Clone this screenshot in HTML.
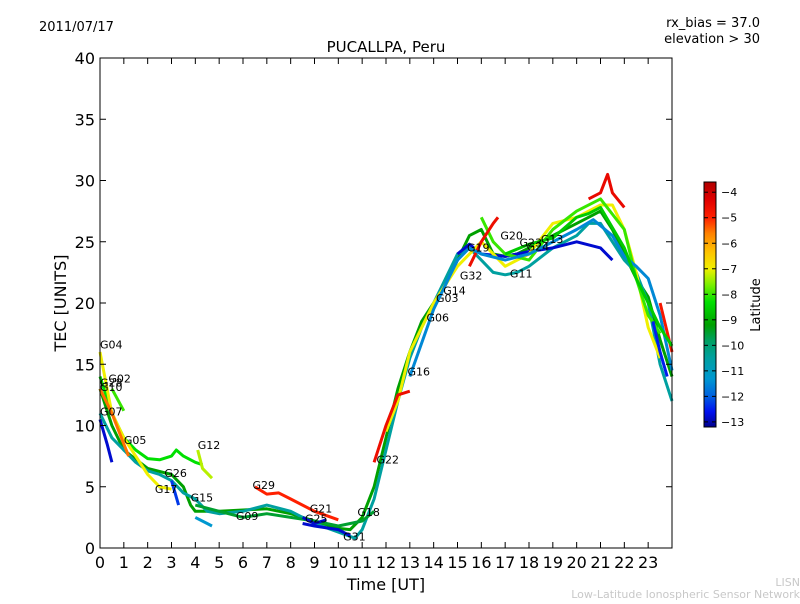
<!DOCTYPE html>
<html><head><meta charset="utf-8"><style>
body{margin:0;background:#fff;font-family:"DejaVu Sans","Liberation Sans",sans-serif}
</style></head><body>
<svg id="chart" width="800" height="600" xmlns="http://www.w3.org/2000/svg" font-family="DejaVu Sans, Liberation Sans, sans-serif">
<rect width="800" height="600" fill="#fff"/>
<text x="39" y="31" font-size="13">2011/07/17</text>
<text x="760" y="27" font-size="13" text-anchor="end">rx_bias = 37.0</text>
<text x="760" y="43" font-size="13" text-anchor="end">elevation &gt; 30</text>
<text x="386" y="52" font-size="15" text-anchor="middle">PUCALLPA, Peru</text>
<g id="series"></g>
<g id="labels"></g>
<rect x="100" y="58" width="572" height="490" fill="none" stroke="#000" stroke-width="1"/>
<g id="axes"></g>
<text x="386" y="590" font-size="16" text-anchor="middle">Time [UT]</text>
<text transform="translate(66,303) rotate(-90)" font-size="16" text-anchor="middle">TEC [UNITS]</text>
<defs><linearGradient id="jet" x1="0" y1="1" x2="0" y2="0"></linearGradient></defs>
<rect x="704" y="182" width="12" height="245" fill="url(#jet)" stroke="#000"/>
<g id="cbticks"></g>
<text transform="translate(760,305) rotate(-90)" font-size="13" text-anchor="middle">Latitude</text>
<text x="800" y="586" font-size="11" fill="#c8c8c8" text-anchor="end">LISN</text>
<text x="800" y="598" font-size="11" fill="#c8c8c8" text-anchor="end">Low-Latitude Ionospheric Sensor Network</text>
</svg>
<script>
const xTicks=[0,1,2,3,4,5,6,7,8,9,10,11,12,13,14,15,16,17,18,19,20,21,22,23];
const yTicks=[0,5,10,15,20,25,30,35,40];
const cbTicks=[-4,-5,-6,-7,-8,-9,-10,-11,-12,-13];
const trackLat=[-8.3,-9.2,-10.5,-12.8,-12.8,-12.8,-7,-7,-5.5,-4.5,-4.8,-4.6,-8,-5,-12.3,-9.5,-7.3,-8,-11.3,-12.8,-4.6,-11.5,-8.6,-12.5];
const trackPts=[
[[0,14],[0.5,11],[1,9],[1.5,8],[2,7.3],[2.5,7.2],[3,7.5],[3.2,8],[3.5,7.5],[4,7],[4.3,6.8]],
[[0,13],[0.5,10],[1,8],[2,6.5],[3,6],[3.5,5],[3.8,3.5],[4,3],[5,3],[6,3.1],[7,3.2],[8,2.8],[9,2.2],[10,1.6],[10.5,1.5],[11,2.5],[11.5,5],[12,9],[12.5,13],[13,16],[13.5,18.5],[14,20],[14.5,21.5],[15,23.5],[15.5,25.5],[16,26],[16.5,24],[17,23.8],[17.5,24],[18,24.5],[18.5,25],[19,25.5],[20,26.5],[20.5,27],[21,27.5],[21.5,26],[22,24],[22.5,22],[23,20.5],[23.5,17],[24,14]],
[[0,11],[0.5,9],[1,8],[1.5,7],[2,6.3],[2.5,6],[3,5.5],[3.5,4.5],[4,4],[4.5,3],[5,2.8],[6,3],[7,3.5],[8,3],[9,2],[10,1.3],[10.7,0.8],[11,1.5],[11.5,4],[12,8],[12.5,12],[13,15.5],[13.5,18],[14,20],[14.5,22],[15,24],[15.5,24.5],[16,23.5],[16.5,22.5],[17,22.3],[17.5,22.5],[18,23],[19,24.5],[20,25.5],[20.5,26.5],[21,26.5],[21.5,25],[22,23.5],[22.5,22.5],[23,20],[23.5,15],[24,12]],
[[0,10.5],[0.3,8.5],[0.5,7]],
[[15,24],[15.5,24.8],[16,24],[17,23.8],[18,24.2],[19,24.5],[20,25],[21,24.5],[21.5,23.5]],
[[8.5,2],[9,1.8],[10,1.5],[10.5,1]],
[[0,16],[0.3,13],[0.5,11],[1,9],[2,6],[2.5,5],[3,4.8]],
[[12,9.5],[12.5,12],[13,16],[14,20],[15,23],[16,25],[17,23],[18,24],[19,26.5],[20,27],[21,28],[21.5,28],[22,26],[22.5,22.5],[23,18],[23.5,15.5]],
[[0,13],[0.5,11],[1,8.5],[1.2,7.5]],
[[20.5,28.5],[21,29],[21.3,30.5],[21.5,29],[22,27.8]],
[[23.5,20],[24,16]],
[[11.5,7],[12,10],[12.5,12.5],[13,12.8]],
[[0.5,13],[1,11.2]],
[[6.5,5],[7,4.4],[7.5,4.5],[8,4],[9,3],[10,2.3]],
[[3,5.5],[3.3,3.5]],
[[4,3.5],[5,3],[6,2.5],[7,2.8],[8,2.5],[9,2.2],[10,1.8],[11,2.2],[11.5,3]],
[[4.1,8],[4.3,6.5],[4.7,5.7]],
[[16,27],[16.5,25],[17,24],[18,23.5],[19,26],[20,27.5],[21,28.5],[22,26],[22.5,22],[23,19],[23.5,17.5]],
[[4,2.5],[4.5,2],[4.7,1.8]],
[[8.5,2.5],[9,2],[9.5,2.3]],
[[15.5,23],[16,25],[16.5,26.5],[16.7,27]],
[[13,14],[14,19.5],[15,23.5],[15.5,24.5],[16,24],[17,23.5],[18,24],[19,25],[20,26],[20.7,26.8],[21.5,25.5],[22,23.8],[22.5,23],[23,22],[23.5,19],[24,14.5]],
[[17,24],[18,24.8],[19,25.3],[20,27],[20.5,27.3],[21,27.8],[22,24.5],[22.5,22],[23,20],[23.5,18],[24,16.5]],
[[23.2,18.5],[23.5,16],[23.8,14]]
];
const labelNames=["G04","G02","G28","G10","G07","G05","G12","G26","G17","G15","G29","G09","G21","G25","G18","G31","G22","G16","G06","G03","G14","G32","G19","G20","G11","G23","G24","G13"];
const labelT=[0,0.35,0,0,0,1,4.1,2.7,2.3,3.8,6.4,5.7,8.8,8.6,10.8,10.2,11.6,12.9,13.7,14.1,14.4,15.1,15.4,16.8,17.2,17.6,17.9,18.5];
const labelV=[16.3,13.5,13.2,12.8,10.8,8.5,8.1,5.8,4.5,3.8,4.8,2.3,2.9,2.1,2.6,0.6,6.9,14.1,18.5,20.1,20.7,21.9,24.2,25.2,22.1,24.6,24.3,24.9];
const cbMin=-13.2,cbMax=-3.6;
const NS='http://www.w3.org/2000/svg';
const xs=h=>100+h*23.833, ys=v=>548-v*12.25;
const cmap=[[-13.2,[0,0,140]],[-12.6,[0,16,240]],[-12,[0,96,224]],[-11.3,[0,152,208]],[-10.5,[0,160,160]],[-9.8,[0,160,96]],[-9.2,[0,160,0]],[-8.3,[0,224,0]],[-7.6,[128,240,0]],[-7,[240,240,0]],[-6.3,[255,192,0]],[-5.6,[255,128,0]],[-5,[255,32,0]],[-4.3,[224,0,0]],[-3.6,[176,0,0]]];
function col(v){for(let i=0;i<cmap.length-1;i++){const a=cmap[i],b=cmap[i+1];if(v<=b[0]||i==cmap.length-2){const t=Math.max(0,Math.min(1,(v-a[0])/(b[0]-a[0])));return 'rgb('+a[1].map((c,k)=>Math.round(c+(b[1][k]-c)*t)).join(',')+')';}}}
const grad=document.getElementById('jet');
cmap.forEach(s=>{const st=document.createElementNS(NS,'stop');st.setAttribute('offset',(s[0]-cbMin)/(cbMax-cbMin));st.setAttribute('stop-color','rgb('+s[1].join(',')+')');grad.appendChild(st);});
const sg=document.getElementById('series');
trackPts.forEach((pts,i)=>{const p=document.createElementNS(NS,'polyline');
p.setAttribute('points',pts.map(q=>xs(q[0]).toFixed(1)+','+ys(q[1]).toFixed(1)).join(' '));
p.setAttribute('fill','none');p.setAttribute('stroke',col(trackLat[i]));p.setAttribute('stroke-width','3');p.setAttribute('stroke-linejoin','round');


sg.appendChild(p);});
const lg=document.getElementById('labels');
labelNames.forEach((n,i)=>{const t=document.createElementNS(NS,'text');t.setAttribute('x',xs(labelT[i]));t.setAttribute('y',ys(labelV[i]));t.setAttribute('font-size','11');t.textContent=n;


lg.appendChild(t);});
const ax=document.getElementById('axes');
function ln(x1,y1,x2,y2,g){const l=document.createElementNS(NS,'line');l.setAttribute('x1',x1);l.setAttribute('y1',y1);l.setAttribute('x2',x2);l.setAttribute('y2',y2);l.setAttribute('stroke','#000');g.appendChild(l);}
function tx(x,y,s,a,fs,g,name){const t=document.createElementNS(NS,'text');t.setAttribute('x',x);t.setAttribute('y',y);t.setAttribute('text-anchor',a);t.setAttribute('font-size',fs);t.textContent=s;


g.appendChild(t);}
xTicks.forEach(h=>{const x=xs(h);ln(x,548,x,542,ax);ln(x,58,x,64,ax);tx(x,568,String(h),'middle',16,ax,'x-tick-label');});
yTicks.forEach(v=>{const y=ys(v);ln(100,y,106,y,ax);ln(672,y,666,y,ax);tx(95,y+6,String(v),'end',16,ax,'y-tick-label');});
const cg=document.getElementById('cbticks');
cbTicks.forEach(v=>{const y=182+(cbMax-v)/(cbMax-cbMin)*245;ln(704,y,708,y,cg);ln(716,y,712,y,cg);tx(721,y+4,'\u2212'+Math.abs(v),'start',11,cg,'colorbar-tick-label');});
</script>
</body></html>
